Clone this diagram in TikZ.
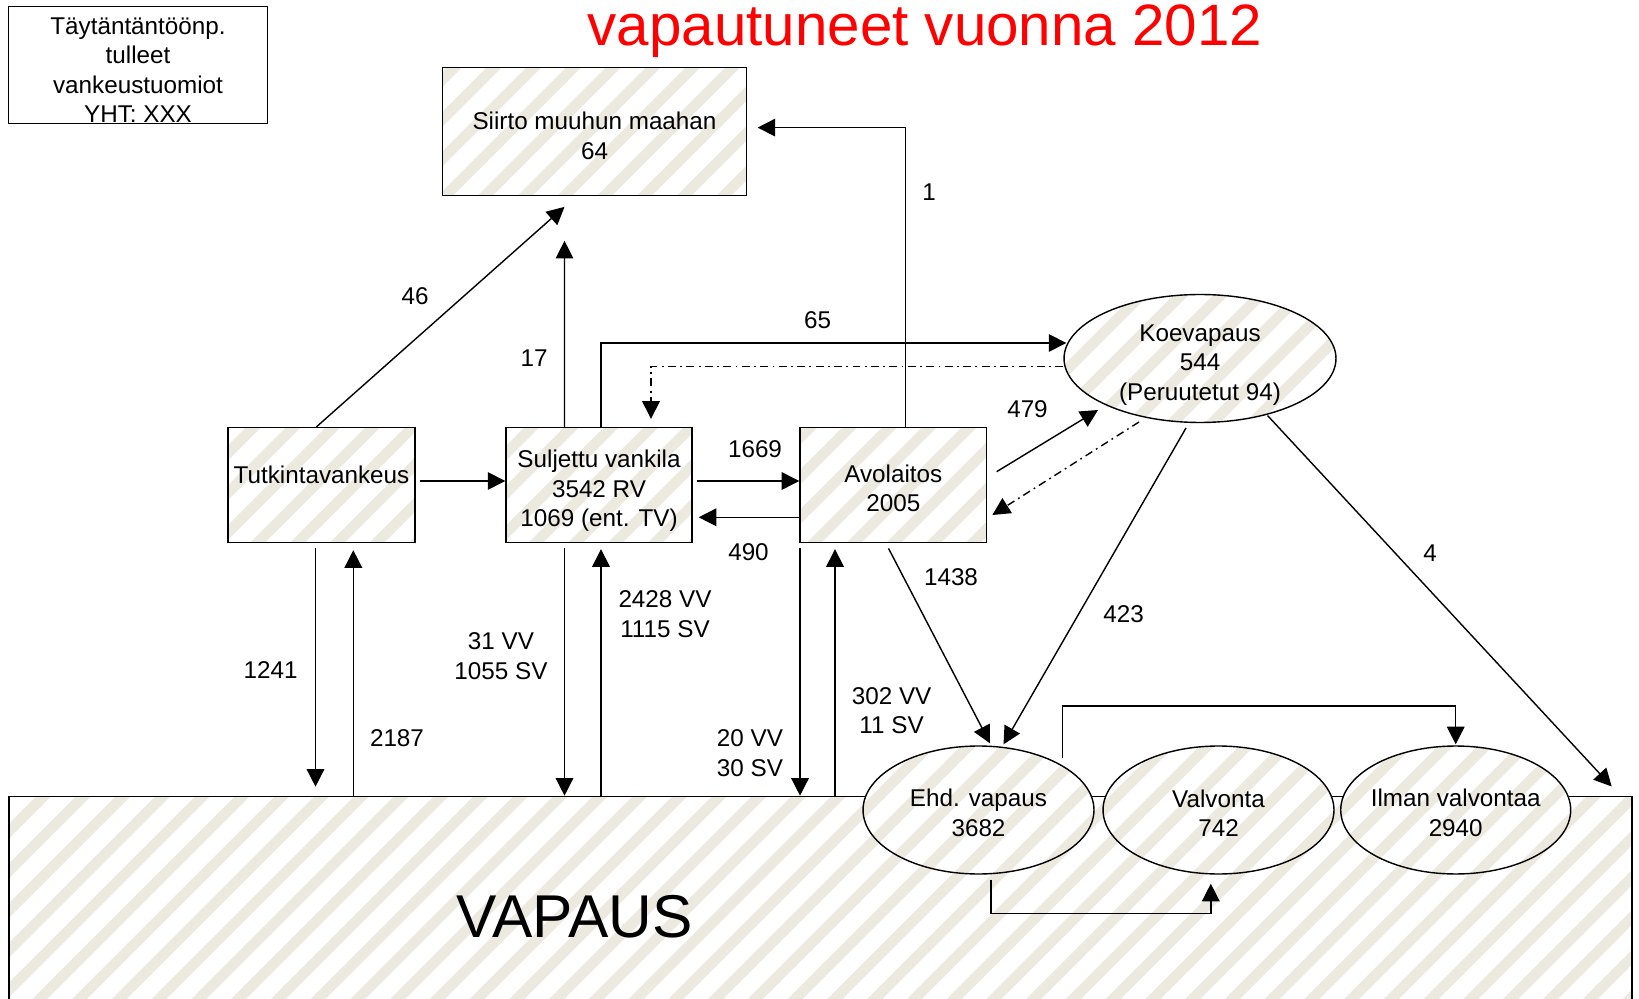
\documentclass[tikz,border=0pt]{standalone}
\usepackage{fontspec}
\setmainfont{Liberation Sans}
\usetikzlibrary{shapes.geometric,arrows.meta,patterns.meta,calc}
\definecolor{hatchbeige}{RGB}{236,233,223}
\definecolor{otsikkopuna}{RGB}{255,0,0}
\tikzset{
  hatched/.style={draw, line width=0.8pt, preaction={fill=white},
    pattern={Lines[angle=45,distance=16pt,line width=6pt]}, pattern color=hatchbeige},
  laatikko/.style={hatched, rectangle, inner sep=0pt},
  soikio/.style={hatched, ellipse, inner sep=0pt},
  nuoli/.style={-{Triangle[length=10pt,width=10pt]}, line width=0.8pt},
  vastanuoli/.style={{Triangle[length=10pt,width=10pt]}-, line width=0.8pt},
  katko/.style={nuoli, dash pattern=on 4.5pt off 2.5pt on 1pt off 2.5pt},
  luku/.style={align=center, inner sep=0pt}
}
\begin{document}
\begin{tikzpicture}[x=0.02cm,y=-0.02cm,font=\fontsize{13.8}{16.8}\selectfont]
\clip (0,0) rectangle (1639,999);
% otsikko ja selite
\node[text=otsikkopuna, font=\fontsize{33.2}{40}\selectfont, anchor=base] (otsikko) at (925,45.5) {vapautuneet vuonna 2012};
\node[draw, line width=0.8pt, fill=white, minimum width=5.184cm, minimum height=2.34cm] (selite) at (138,64.8) {};
\node[luku] (selite-t) at (138,70) {Täytäntäntöönp.\\tulleet\\vankeustuomiot\\YHT: XXX};

% laitokset
\node[laatikko, minimum width=6.074cm, minimum height=2.56cm] (siirto) at (594.5,131.6) {};
\node[luku] (siirto-t) at (594.5,136) {Siirto muuhun maahan\\64};
\node[laatikko, minimum width=3.74cm, minimum height=2.3cm] (tutkinta) at (321.5,485) {};
\node[luku] (tutkinta-t) at (321.5,474.5) {Tutkintavankeus};
\node[laatikko, minimum width=3.72cm, minimum height=2.3cm] (suljettu) at (599,485) {};
\node[luku] (suljettu-t) at (599,491) {Suljettu vankila\\3542 RV\\1069 (ent. TV)};
\node[laatikko, minimum width=3.734cm, minimum height=2.3cm] (avo) at (893.3,485) {};
\node[luku] (avo-t) at (893.3,488.5) {Avolaitos\\2005};
\node[soikio, minimum width=5.44cm, minimum height=2.56cm] (koe) at (1200,358.5) {};
\node[luku] (koe-t) at (1200,365) {Koevapaus\\544\\(Peruutetut 94)};

% vapaus
\node[laatikko, anchor=north west, minimum width=32.464cm, minimum height=4.39cm] (vapaus) at (8.4,795.5) {};
\node[font=\fontsize{34.4}{40}\selectfont, anchor=base] (vapaus-t) at (574.4,937.6) {VAPAUS};
\node[soikio, minimum width=4.62cm, minimum height=2.56cm] (ehd) at (978.5,810) {};
\node[luku] (ehd-t) at (978.5,813) {Ehd. vapaus\\3682};
\node[soikio, minimum width=4.62cm, minimum height=2.56cm] (valv) at (1218.5,810) {};
\node[luku] (valv-t) at (1218.5,813) {Valvonta\\742};
\node[soikio, minimum width=4.6cm, minimum height=2.56cm] (ilman) at (1455.7,810) {};
\node[luku] (ilman-t) at (1455.7,813) {Ilman valvontaa\\2940};

% siirrot
\draw[nuoli] ($(tutkinta.north)+(-5,0)$) -- ($(siirto.south)+(-30,6)$);
\draw[nuoli] ($(suljettu.north)+(-34.5,0)$) -- ($(siirto.south)+(-30,40)$);
\draw[nuoli] ($(avo.north)+(12,0)$) |- ($(siirto.east)+(6,-4)$);
\draw[nuoli] ($(suljettu.north)+(2,0)$) |- ($(koe.west)+(3,-15.5)$);
\draw[katko] ($(koe.west)+(0,8)$) -| ($(suljettu.north)+(52,-8)$);
\draw[nuoli] ($(tutkinta.east)+(4,-4)$) -- ($(suljettu.west)+(0,-4)$);
\draw[nuoli] ($(suljettu.east)+(4.7,-4)$) -- ($(avo.west)+(0,-4)$);
\draw[nuoli] ($(avo.west)+(0,32.3)$) -- ($(suljettu.east)+(6,32.3)$);
\draw[nuoli] ($(avo.east)+(9.3,-13.3)$) -- ($(koe)+(-102,51.5)$);
\draw[katko] ($(koe)+(-61,63.5)$) -- ($(avo.east)+(5,30)$);
\draw[nuoli] ($(avo.south)+(-4.8,5.2)$) -- ($(ehd.north)+(11.5,-2)$);
\draw[nuoli] ($(koe)+(-14,69.5)$) -- ($(ehd.north)+(25,-1)$);
\draw[nuoli] ($(koe)+(67.5,57)$) -- ($(vapaus.north east)+(-21,-9)$);
\draw[nuoli] ($(ehd.north)+(84,13)$) |- ($(ilman.north)+(0,-39.3)$) -- ($(ilman.north)+(0,-1)$);
\draw[nuoli] ($(ehd.south)+(12.5,5)$) -- ++(0,34) -| ($(valv.south)+(-7.7,9)$);

% vapauteen ja takaisin
\draw[nuoli] ($(tutkinta.south)+(-6,5)$) -- ++(0,238.5);
\draw[vastanuoli] ($(tutkinta.south)+(31.8,7)$) -- ++(0,246);
\draw[nuoli] ($(suljettu.south)+(-34.5,5)$) -- ++(0,247.5);
\draw[vastanuoli] ($(suljettu.south)+(2,6)$) -- ++(0,247);
\draw[nuoli] ($(avo.south)+(-93.3,5)$) -- ++(0,247.5);
\draw[vastanuoli] ($(avo.south)+(-58.3,6)$) -- ++(0,247);

% luvut
\node[luku] (l46) at (415,296) {46};
\node[luku] (l17) at (534,358.5) {17};
\node[luku] (l1) at (929,192) {1};
\node[luku] (l65) at (817.5,320) {65};
\node[luku] (l1669) at (755,449.5) {1669};
\node[luku] (l490) at (748.5,552) {490};
\node[luku] (l479) at (1027.5,408.7) {479};
\node[luku] (l1438) at (951,577) {1438};
\node[luku] (l423) at (1123.7,614.6) {423};
\node[luku] (l4) at (1430,553) {4};
\node[luku] (l1241) at (270.7,670) {1241};
\node[luku] (l2187) at (397,738) {2187};
\node[luku] (l31) at (501,656) {31 VV\\1055 SV};
\node[luku] (l2428) at (665,614) {2428 VV\\1115 SV};
\node[luku] (l20) at (750,753) {20 VV\\30 SV};
\node[luku] (l302) at (891.6,710.5) {302 VV\\11 SV};
\end{tikzpicture}
\end{document}
